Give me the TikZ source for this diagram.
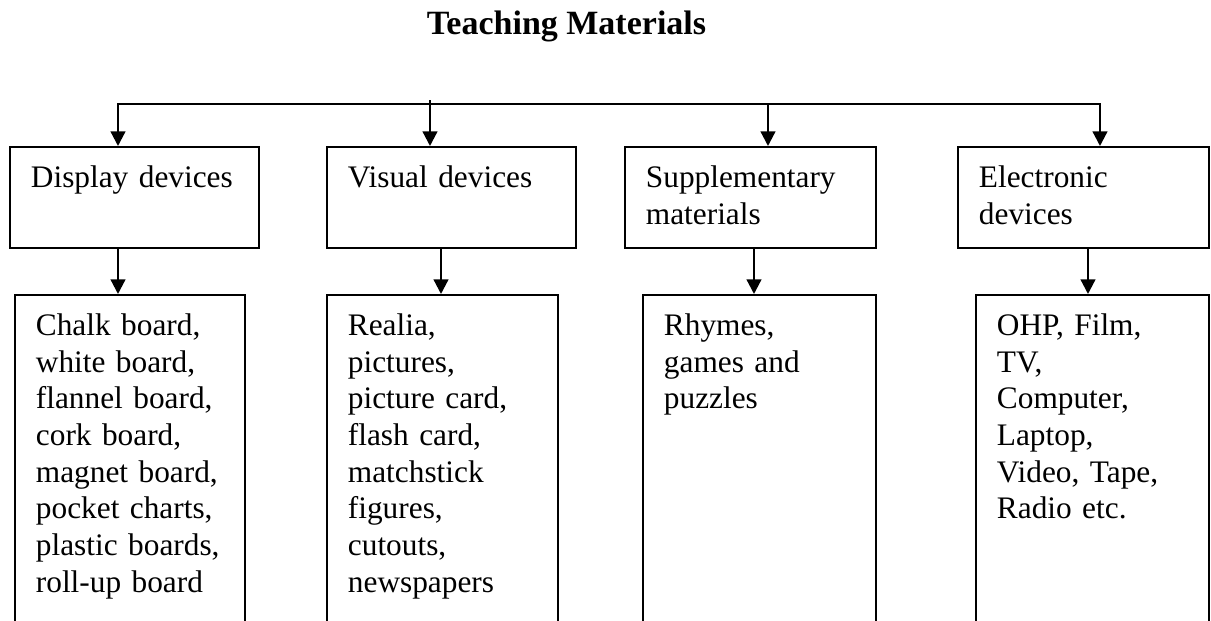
\documentclass[tikz,border=0pt]{standalone}
\usepackage{fontspec}
\setmainfont{Liberation Serif}
\usetikzlibrary{arrows.meta}

\begin{document}
\begin{tikzpicture}[x=0.75pt,y=-0.75pt,
  box/.style={draw,line width=1.4pt,anchor=north west,align=left,
    inner xsep=15.75pt,inner ysep=0pt,text height=30.5pt,
    font=\fontsize{23.5pt}{27.5pt}\selectfont},
  headbox/.style={box,text width=#1,text depth=45.2pt},
  listbox/.style={box,text width=#1,text depth=229pt},
  arrow/.style={line width=1.7pt,-{Triangle[length=11pt,width=11pt]}}]
\useasboundingbox (0,0) rectangle (1211,621);
\clip (0,0) rectangle (1211,621);

\node[font=\fontsize{25.5pt}{30pt}\selectfont\bfseries,anchor=base] (title)
  at (566.5,34) {Teaching Materials};

% kinds of material
\node[headbox=155.25pt] (disp) at (9,146) {Display devices};
\node[headbox=155.25pt] (vis) at (326,146) {Visual devices};
\node[headbox=156.75pt] (supp) at (624,146) {Supplementary\\materials};
\node[headbox=156.75pt] (elec) at (957,146) {Electronic\\devices};

% what goes in each (boxes run off the page)
\node[listbox=141pt] (ldisp) at (14,294) {Chalk board,\\white board,\\flannel board,\\cork board,\\magnet board,\\pocket charts,\\plastic boards,\\roll-up board};
\node[listbox=141.75pt] (lvis) at (326,294) {Realia,\\pictures,\\picture card,\\flash card,\\matchstick\\figures,\\cutouts,\\newspapers};
\node[listbox=143.25pt] (lsupp) at (642,294) {Rhymes,\\games and\\puzzles};
\node[listbox=143.25pt] (lelec) at (975,294) {OHP, Film,\\TV,\\Computer,\\Laptop,\\Video, Tape,\\Radio etc.};

% bus under the title
\coordinate (root) at (430,100);
\coordinate (bus) at (430,104);
\draw[arrow] (root) -- (vis.north -| root);
\draw[arrow] (bus) -| (disp.north -| 118,0);
\draw[arrow] (bus) -| (supp.north -| 768,0);
\draw[arrow] (bus) -| (elec.north -| 1100,0);

\foreach \a/\x in {disp/118,vis/441,supp/754,elec/1088}
  \draw[arrow] (\a.south -| \x,0) -- (l\a.north -| \x,0);
\end{tikzpicture}
\end{document}
